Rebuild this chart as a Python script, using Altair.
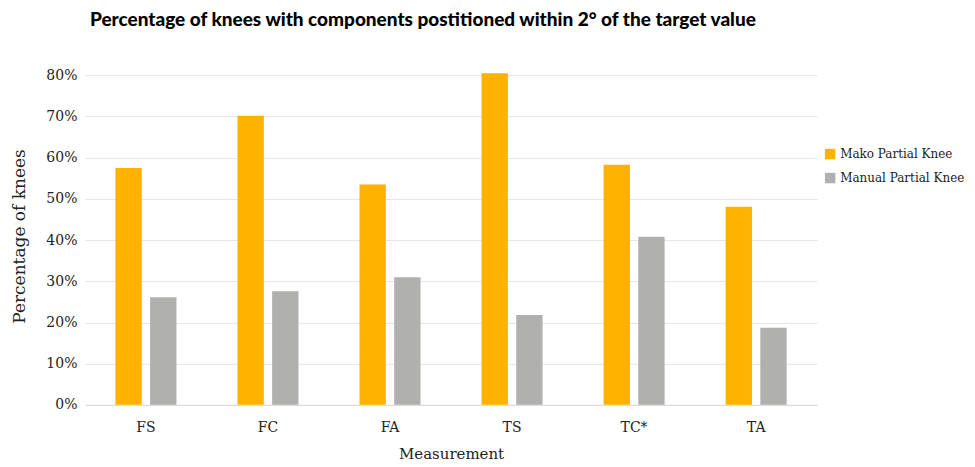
import altair as alt
import pandas as pd

categories = ["FS", "FC", "FA", "TS", "TC*", "TA"]
mako = [0.575, 0.702, 0.535, 0.805, 0.583, 0.481]
manual = [0.261, 0.276, 0.310, 0.218, 0.408, 0.187]
series = ["Mako Partial Knee", "Manual Partial Knee"]
colors = ["#FFB300", "#B0B0AE"]

rows = []
for c, a, b in zip(categories, mako, manual):
    rows.append({"Measurement": c, "Series": series[0], "Value": a})
    rows.append({"Measurement": c, "Series": series[1], "Value": b})
df = pd.DataFrame(rows)

serif = "DejaVu Serif"

chart = alt.Chart(df).mark_bar(clip=False).encode(
    x=alt.X("Measurement:N", sort=categories,
            scale=alt.Scale(paddingInner=0.5, paddingOuter=0.25),
            axis=alt.Axis(title="Measurement", labelAngle=0, labelFont=serif,
                          labelFontSize=14, labelColor="#222", labelPadding=16,
                          ticks=False, domainColor="#d9d9d9", titleFont=serif,
                          titleFontSize=15, titleFontWeight="normal", titleColor="#222",
                          titlePadding=12)),
    xOffset=alt.XOffset("Series:N", sort=series,
                        scale=alt.Scale(paddingInner=0.24, paddingOuter=0)),
    y=alt.Y("Value:Q", scale=alt.Scale(domain=[0, 0.82], nice=False),
            axis=alt.Axis(title="Percentage of knees", format=".0%",
                          values=[0, 0.1, 0.2, 0.3, 0.4, 0.5, 0.6, 0.7, 0.8],
                          labelFont=serif, labelFontSize=14, labelColor="#222",
                          labelPadding=8, ticks=False, domain=False,
                          gridColor="#e6e6e6", titleFont=serif, titleFontSize=17,
                          titleFontWeight="normal", titleColor="#222", titlePadding=17)),
    color=alt.Color("Series:N", sort=series,
                    scale=alt.Scale(domain=series, range=colors),
                    legend=alt.Legend(title=None, orient="none", legendX=740, legendY=81,
                                      symbolType="square", symbolSize=110,
                                      symbolStrokeWidth=0, labelFont=serif,
                                      labelFontSize=12, labelColor="#222", rowPadding=12)),
).properties(
    width=733, height=338,
    autosize=alt.AutoSizeParams(type="none"),
    padding={"left": 77, "top": 59, "right": 150, "bottom": 60},
    title=alt.TitleParams("Percentage of knees with components postitioned within 2° of the target value",
                          anchor="start", frame="group", dx=5, offset=37, font="Lato", fontSize=19,
                          fontWeight=900, color="#000"),
).configure_view(stroke=None)

chart.save("out.html", embed_options={"renderer": "svg", "actions": False})
